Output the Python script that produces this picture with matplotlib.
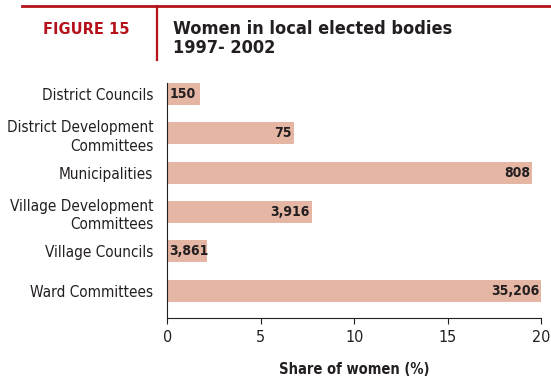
import matplotlib.pyplot as plt
import numpy as np

# share of women (%) per type of local body, with number of women elected
bodies = ["District Councils", "District Development\nCommittees", "Municipalities",
          "Village Development\nCommittees", "Village Councils", "Ward Committees"]
share = [1.75, 6.78, 19.54, 7.74, 2.12, 20.0]
women = ["150", "75", "808", "3,916", "3,861", "35,206"]
ticks = [0, 5, 10, 15, 20]

red = "#b5121b"
bar_col = "#e4b6a3"
dark = "#231f20"
plt.rcParams['font.family'] = ["DejaVu Sans"]
plt.rcParams['font.stretch'] = "condensed"

fig = plt.figure(figsize=(5.51, 3.81), dpi=100)
ax = fig.add_axes([0.3036, 0.1654, 0.6783, 0.6166])

y = np.arange(len(bodies))
ax.barh(y, share, height=0.56, color=bar_col)
for yi, v, lab in zip(y, share, women):
    if v < 3:
        ax.text(0.1, yi, lab, ha="left", va="center", fontsize=10,
                fontweight="bold", color=dark)
    else:
        ax.text(v - 0.1, yi, lab, ha="right", va="center", fontsize=10,
                fontweight="bold", color=dark)

ax.set_xlim(0, 20)
ax.set_ylim(5.69, -0.28)
ax.set_yticks(y)
ax.set_yticklabels(bodies, fontsize=11, color=dark, linespacing=1.3)
ax.tick_params(axis="y", length=0, pad=10)
ax.set_xticks(ticks)
ax.set_xticklabels([str(t) for t in ticks], fontsize=11.5, color=dark)
ax.tick_params(axis="x", length=4, width=0.8, color=dark, pad=5)
ax.set_xlabel("Share of women (%)", fontsize=10.5, fontweight="bold", color=dark, labelpad=12)
for s in ["top", "right"]:
    ax.spines[s].set_visible(False)
ax.spines["left"].set_color(dark)
ax.spines["bottom"].set_color(dark)

# header: rule, divider and titles
fig.add_artist(plt.Line2D([22 / 551, 1.0], [1 - 6 / 381] * 2, color=red, lw=2))
fig.add_artist(plt.Line2D([157 / 551] * 2, [1 - 6 / 381, 1 - 60 / 381], color=red, lw=1.6))
fig.text(43 / 551, 1 - 29 / 381, "FIGURE 15", color=red, fontsize=11.7,
         fontweight="bold", va="center", ha="left")
fig.text(173 / 551, 1 - 29 / 381, "Women in local elected bodies", color=dark,
         fontsize=13, fontweight="bold", va="center", ha="left")
fig.text(173 / 551, 1 - 48 / 381, "1997- 2002", color=dark,
         fontsize=13, fontweight="bold", va="center", ha="left")

fig.savefig("out.png", dpi=100)
